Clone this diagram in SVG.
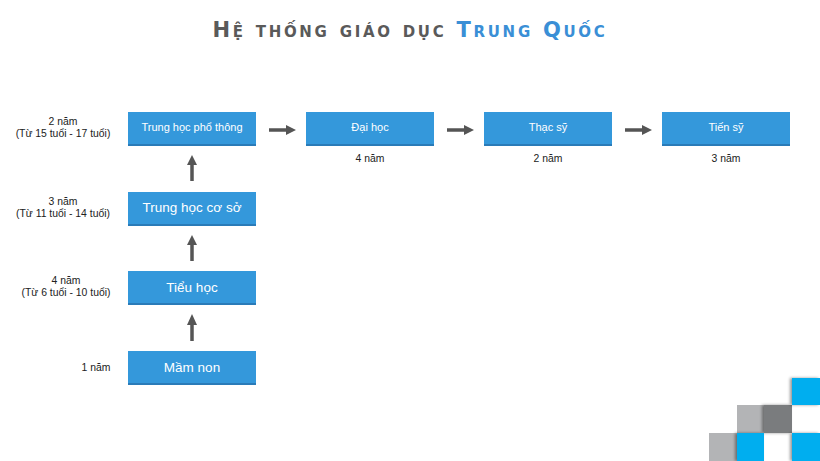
<svg xmlns="http://www.w3.org/2000/svg" width="820" height="461" viewBox="0 0 820 461">
<style>
.box{fill:#3498db}
.edge{fill:#2a7bb8}
.bt{fill:#fff;font-family:"Liberation Sans",Arial,sans-serif;text-anchor:middle}
.lb{fill:#222;font-family:"Liberation Sans",Arial,sans-serif;font-size:10.4px;text-anchor:middle}
.ar{stroke:#555;stroke-width:3.5;fill:none}
.ah{fill:#555}
.title{font-family:"DejaVu Sans",sans-serif;font-size:21px;font-weight:bold;font-variant:small-caps;letter-spacing:2.7px;text-anchor:middle}
</style>
<defs>
<filter id="sh" x="-30%" y="-30%" width="160%" height="160%"><feDropShadow dx="-2" dy="0" stdDeviation="1.5" flood-color="#000" flood-opacity="0.4"/></filter>
</defs>
<text class="title" x="410" y="37"><tspan fill="#5a5a5a">Hệ thống giáo dục </tspan><tspan fill="#3a8fd6">Trung Quốc</tspan></text>

<g id="thpt"><rect class="box" x="128" y="112" width="128" height="34"/><rect class="edge" x="128" y="144" width="128" height="2"/><text class="bt" x="192" y="131" font-size="11">Trung học phổ thông</text></g>
<g id="daihoc"><rect class="box" x="306" y="112" width="128" height="34"/><rect class="edge" x="306" y="144" width="128" height="2"/><text class="bt" x="370" y="131" font-size="11">Đại học</text></g>
<g id="thacsy"><rect class="box" x="484" y="112" width="128" height="34"/><rect class="edge" x="484" y="144" width="128" height="2"/><text class="bt" x="548" y="131" font-size="11">Thạc sỹ</text></g>
<g id="tiensy"><rect class="box" x="662" y="112" width="128" height="34"/><rect class="edge" x="662" y="144" width="128" height="2"/><text class="bt" x="726" y="131" font-size="11">Tiến sỹ</text></g>
<g id="thcs"><rect class="box" x="128" y="192" width="128" height="34"/><rect class="edge" x="128" y="224" width="128" height="2"/><text class="bt" x="192" y="212" font-size="13.5">Trung học cơ sở</text></g>
<g id="tieuhoc"><rect class="box" x="128" y="271" width="128" height="34"/><rect class="edge" x="128" y="303" width="128" height="2"/><text class="bt" x="192" y="292" font-size="13.5">Tiểu học</text></g>
<g id="mamnon"><rect class="box" x="128" y="351" width="128" height="34"/><rect class="edge" x="128" y="383" width="128" height="2"/><text class="bt" x="192" y="372" font-size="13.5">Mầm non</text></g>

<g id="labels">
<text class="lb" x="63" y="125">2 năm</text>
<text class="lb" x="63" y="137">(Từ 15 tuổi - 17 tuổi)</text>
<text class="lb" x="63" y="205">3 năm</text>
<text class="lb" x="63" y="217">(Từ 11 tuổi - 14 tuổi)</text>
<text class="lb" x="66" y="284">4 năm</text>
<text class="lb" x="66" y="296">(Từ 6 tuổi - 10 tuổi)</text>
<text class="lb" x="96" y="371">1 năm</text>
<text class="lb" x="370" y="162">4 năm</text>
<text class="lb" x="548" y="162">2 năm</text>
<text class="lb" x="726" y="162">3 năm</text>
</g>

<g id="connectors">
<line class="ar" x1="269" y1="130" x2="288" y2="130"/><polygon class="ah" points="286,125 296,130 286,135"/>
<line class="ar" x1="447" y1="130" x2="466" y2="130"/><polygon class="ah" points="464,125 474,130 464,135"/>
<line class="ar" x1="625" y1="130" x2="644" y2="130"/><polygon class="ah" points="642,125 652,130 642,135"/>
<line class="ar" x1="192" y1="181" x2="192" y2="163"/><polygon class="ah" points="187,165 192,155 197,165"/>
<line class="ar" x1="192" y1="261" x2="192" y2="243"/><polygon class="ah" points="187,245 192,235 197,245"/>
<line class="ar" x1="192" y1="341" x2="192" y2="323"/><polygon class="ah" points="187,325 192,314 197,325"/>
</g>

<g id="deco">
<rect x="709" y="433" width="28" height="28" fill="#b3b4b6"/>
<rect x="737" y="405" width="27" height="28" fill="#b3b4b6"/>
<rect x="764" y="405" width="28" height="28" fill="#7a7b7e" filter="url(#sh)"/>
<rect x="737" y="433" width="27" height="28" fill="#00aeef" filter="url(#sh)"/>
<rect x="792" y="378" width="28" height="27" fill="#00aeef" filter="url(#sh)"/>
<rect x="792" y="433" width="28" height="28" fill="#00aeef" filter="url(#sh)"/>
</g>
</svg>
